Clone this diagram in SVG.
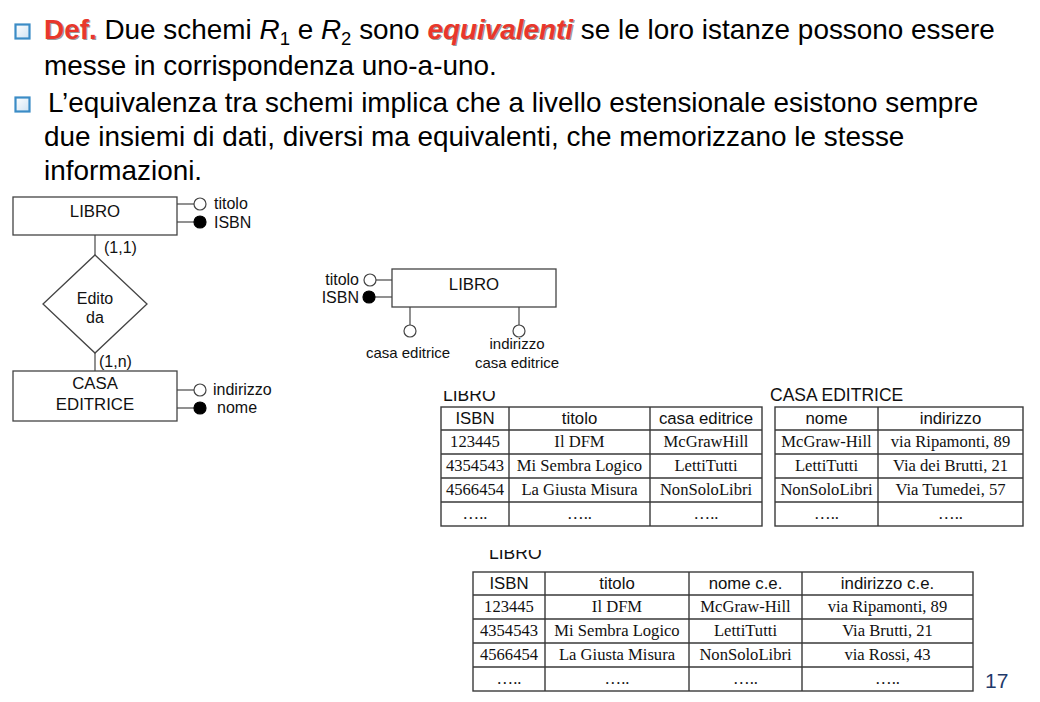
<svg xmlns="http://www.w3.org/2000/svg" width="1040" height="702" viewBox="0 0 1040 702">
  <defs>
    <linearGradient id="bulletFill" x1="0" y1="0" x2="1" y2="1">
      <stop offset="0" stop-color="#ffffff"/>
      <stop offset="1" stop-color="#cfe3f3"/>
    </linearGradient>
    <clipPath id="clipLabel1"><rect x="430" y="391" width="100" height="20"/></clipPath>
    <clipPath id="clipLabel2"><rect x="480" y="550" width="100" height="20"/></clipPath>
  </defs>
  <style>
    .body { font-family: "Liberation Sans", Arial, sans-serif; font-size: 27.9px; fill: #000; }
    .hl { fill: #e8372c; font-weight: bold; }
    .sh { fill: #9a9a9a; font-weight: bold; }
    .ghost { fill: none; }
    .bullet { fill: url(#bulletFill); stroke: #3b8cc6; stroke-width: 2.2; }
    .box { fill: #fff; stroke: #444; stroke-width: 1.3; }
    .edge { stroke: #555; stroke-width: 1.3; fill: none; }
    .attr { fill: #fff; stroke: #444; stroke-width: 1.2; }
    .key { fill: #000; stroke: #000; stroke-width: 1.2; }
    .er { font-family: "Liberation Sans", Arial, sans-serif; font-size: 16px; fill: #111; }
    .ent { font-size: 16.8px; text-anchor: middle; }
    .small { font-size: 15px; }
    .grid { stroke: #3a3a3a; stroke-width: 1.4; fill: none; }
    .th { font-family: "Liberation Sans", Arial, sans-serif; font-size: 16.8px; fill: #111; text-anchor: middle; }
    .td { font-family: "Liberation Serif", "Times New Roman", serif; font-size: 16.6px; fill: #111; text-anchor: middle; }
    .cap { font-family: "Liberation Sans", Arial, sans-serif; font-size: 17.5px; fill: #111; }
    .pg { font-family: "Liberation Sans", Arial, sans-serif; font-size: 21px; fill: #1f3a6b; }
  </style>

  <!-- bulleted text -->
  <g id="bullets">
    <rect class="bullet" x="15.5" y="24.5" width="14" height="14"/>
    <rect class="bullet" x="15.5" y="97.5" width="14" height="14"/>
  </g>
  <g id="paragraph1">
    <text class="body" x="44" y="39" transform="translate(1.2,1.2)"><tspan class="sh">Def.</tspan><tspan class="ghost"> Due schemi </tspan><tspan class="ghost" font-style="italic">R</tspan><tspan class="ghost" font-size="18.5" dy="6">1</tspan><tspan class="ghost" dy="-6"> e </tspan><tspan class="ghost" font-style="italic">R</tspan><tspan class="ghost" font-size="18.5" dy="6">2</tspan><tspan class="ghost" dy="-6"> sono </tspan><tspan class="sh" font-style="italic">equivalenti</tspan></text>
    <text class="body" x="44" y="39"><tspan class="hl">Def.</tspan> Due schemi <tspan font-style="italic">R</tspan><tspan font-size="18.5" dy="6">1</tspan><tspan dy="-6"> e </tspan><tspan font-style="italic">R</tspan><tspan font-size="18.5" dy="6">2</tspan><tspan dy="-6"> sono </tspan><tspan class="hl" font-style="italic">equivalenti</tspan> se le loro istanze possono essere</text>
    <text class="body" x="44" y="75">messe in corrispondenza uno-a-uno.</text>
  </g>
  <g id="paragraph2">
    <text class="body" x="48" y="112">L’equivalenza tra schemi implica che a livello estensionale esistono sempre</text>
    <text class="body" x="44" y="146">due insiemi di dati, diversi ma equivalenti, che memorizzano le stesse</text>
    <text class="body" x="44" y="180">informazioni.</text>
  </g>

  <!-- connectors of the two schemas -->
  <g id="connectors">
    <line class="edge" x1="177" y1="204" x2="194" y2="204"/>
    <line class="edge" x1="177" y1="222" x2="194" y2="222"/>
    <line class="edge" x1="95" y1="235" x2="95" y2="255"/>
    <line class="edge" x1="95" y1="353" x2="95" y2="371"/>
    <line class="edge" x1="177" y1="390" x2="194" y2="390"/>
    <line class="edge" x1="177" y1="408" x2="194" y2="408"/>
    <line class="edge" x1="376" y1="280" x2="392" y2="280"/>
    <line class="edge" x1="375" y1="297" x2="392" y2="297"/>
    <line class="edge" x1="410" y1="307" x2="410" y2="325"/>
    <line class="edge" x1="519" y1="307" x2="519" y2="325"/>
  </g>

  <!-- ER schema with relationship -->
  <g id="er-libro">
    <rect class="box" x="13" y="197" width="164" height="38"/>
    <text class="er ent" x="95" y="217">LIBRO</text>
  </g>
  <g id="er-libro-titolo">
    <circle class="attr" cx="200" cy="204" r="6"/>
    <text class="er" x="214" y="209">titolo</text>
  </g>
  <g id="er-libro-isbn">
    <circle class="key" cx="200" cy="222" r="6"/>
    <text class="er" x="214" y="228">ISBN</text>
  </g>
  <g id="er-edito-da">
    <polygon class="box" points="95,255 147,304 95,353 43,304"/>
    <text class="er" x="95" y="304" text-anchor="middle">Edito</text>
    <text class="er" x="95" y="323" text-anchor="middle">da</text>
    <text class="er" x="104" y="253" font-size="15.4">(1,1)</text>
    <text class="er" x="99" y="367" font-size="15.4">(1,n)</text>
  </g>
  <g id="er-casa-editrice">
    <rect class="box" x="13" y="371" width="164" height="50"/>
    <text class="er ent" x="95" y="389">CASA</text>
    <text class="er ent" x="95" y="410">EDITRICE</text>
  </g>
  <g id="er-casa-indirizzo">
    <circle class="attr" cx="200" cy="390" r="6"/>
    <text class="er" x="213" y="395">indirizzo</text>
  </g>
  <g id="er-casa-nome">
    <circle class="key" cx="200" cy="408" r="6"/>
    <text class="er" x="217" y="413">nome</text>
  </g>

  <!-- single-entity schema -->
  <g id="flat-libro">
    <rect class="box" x="392" y="269" width="164" height="38"/>
    <text class="er ent" x="474" y="290">LIBRO</text>
  </g>
  <g id="flat-titolo">
    <circle class="attr" cx="370" cy="280" r="6"/>
    <text class="er" x="359" y="285" text-anchor="end">titolo</text>
  </g>
  <g id="flat-isbn">
    <circle class="key" cx="369" cy="297" r="6"/>
    <text class="er" x="359" y="303" text-anchor="end">ISBN</text>
  </g>
  <g id="flat-casa-editrice">
    <circle class="attr" cx="410" cy="331" r="6"/>
    <text class="er small" x="408" y="358" text-anchor="middle">casa editrice</text>
  </g>
  <g id="flat-indirizzo">
    <circle class="attr" cx="519" cy="331" r="6"/>
    <text class="er small" x="517" y="349" text-anchor="middle">indirizzo</text>
    <text class="er small" x="517" y="368" text-anchor="middle">casa editrice</text>
  </g>

  <!-- table LIBRO (two-table version) -->
  <g id="table-libro">
    <text class="cap" x="443" y="401" clip-path="url(#clipLabel1)">LIBRO</text>
    <rect class="grid" x="441" y="407" width="321" height="119"/>
    <path class="grid" d="M441 430H762M441 454H762M441 478H762M441 502H762M509 407V526M650 407V526"/>
    <text class="th" x="475" y="424">ISBN</text>
    <text class="th" x="579.5" y="424">titolo</text>
    <text class="th" x="706" y="424">casa editrice</text>
    <text class="td" x="475" y="447">123445</text>
    <text class="td" x="579.5" y="447">Il DFM</text>
    <text class="td" x="706" y="447">McGrawHill</text>
    <text class="td" x="475" y="471">4354543</text>
    <text class="td" x="579.5" y="471">Mi Sembra Logico</text>
    <text class="td" x="706" y="471">LettiTutti</text>
    <text class="td" x="475" y="495">4566454</text>
    <text class="td" x="579.5" y="495">La Giusta Misura</text>
    <text class="td" x="706" y="495">NonSoloLibri</text>
    <text class="td" x="475" y="519">…..</text>
    <text class="td" x="579.5" y="519">…..</text>
    <text class="td" x="706" y="519">…..</text>
  </g>

  <!-- table CASA EDITRICE -->
  <g id="table-casa-editrice">
    <text class="cap" x="770" y="401">CASA EDITRICE</text>
    <rect class="grid" x="775" y="407" width="248" height="119"/>
    <path class="grid" d="M775 430H1023M775 454H1023M775 478H1023M775 502H1023M878 407V526"/>
    <text class="th" x="826.5" y="424">nome</text>
    <text class="th" x="950.5" y="424">indirizzo</text>
    <text class="td" x="826.5" y="447">McGraw-Hill</text>
    <text class="td" x="950.5" y="447">via Ripamonti, 89</text>
    <text class="td" x="826.5" y="471">LettiTutti</text>
    <text class="td" x="950.5" y="471">Via dei Brutti, 21</text>
    <text class="td" x="826.5" y="495">NonSoloLibri</text>
    <text class="td" x="950.5" y="495">Via Tumedei, 57</text>
    <text class="td" x="826.5" y="519">…..</text>
    <text class="td" x="950.5" y="519">…..</text>
  </g>

  <!-- table LIBRO (single-table version) -->
  <g id="table-libro-flat">
    <text class="cap" x="489" y="559" clip-path="url(#clipLabel2)">LIBRO</text>
    <rect class="grid" x="473" y="572" width="500" height="119"/>
    <path class="grid" d="M473 595H973M473 619H973M473 643H973M473 667H973M545 572V691M689 572V691M802 572V691"/>
    <text class="th" x="509" y="589">ISBN</text>
    <text class="th" x="617" y="589">titolo</text>
    <text class="th" x="745.5" y="589">nome c.e.</text>
    <text class="th" x="887.5" y="589">indirizzo c.e.</text>
    <text class="td" x="509" y="612">123445</text>
    <text class="td" x="617" y="612">Il DFM</text>
    <text class="td" x="745.5" y="612">McGraw-Hill</text>
    <text class="td" x="887.5" y="612">via Ripamonti, 89</text>
    <text class="td" x="509" y="636">4354543</text>
    <text class="td" x="617" y="636">Mi Sembra Logico</text>
    <text class="td" x="745.5" y="636">LettiTutti</text>
    <text class="td" x="887.5" y="636">Via Brutti, 21</text>
    <text class="td" x="509" y="660">4566454</text>
    <text class="td" x="617" y="660">La Giusta Misura</text>
    <text class="td" x="745.5" y="660">NonSoloLibri</text>
    <text class="td" x="887.5" y="660">via Rossi, 43</text>
    <text class="td" x="509" y="684">…..</text>
    <text class="td" x="617" y="684">…..</text>
    <text class="td" x="745.5" y="684">…..</text>
    <text class="td" x="887.5" y="684">…..</text>
  </g>

  <text id="page-number" class="pg" x="985" y="688">17</text>
</svg>
